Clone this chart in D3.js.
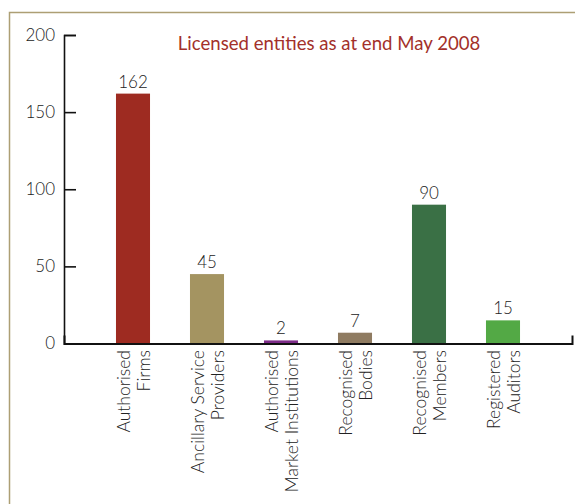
<!DOCTYPE html>
<html>
<head>
<meta charset="utf-8">
<script src="https://cdn.jsdelivr.net/npm/d3@7"></script>
<style>
  body { margin: 0; background: #fff; }
  svg text { font-family: Lato, "Open Sans", sans-serif; font-weight: 300; fill: #222; }
</style>
</head>
<body>
<div id="chart"></div>
<script>
// chart data
var categories = [
    ["Authorised", "Firms"],
    ["Ancillary Service", "Providers"],
    ["Authorised", "Market Institutions"],
    ["Recognised", "Bodies"],
    ["Recognised", "Members"],
    ["Registered", "Auditors"]
];
var values = [162, 45, 2, 7, 90, 15];
var barColors = ["#9e2b21", "#a49461", "#7d2c88", "#8f7b61", "#3a7045", "#53a945"];
var yTicks = [0, 50, 100, 150, 200];
var title = "Licensed entities as at end May 2008";

var width = 575, height = 504;

var svg = d3.select("#chart")
    .append("svg")
    .attr("width", width)
    .attr("height", height);

// frame
svg.append("path")
    .attr("d", "M9.5," + height + "V12.5H" + width)
    .attr("fill", "none")
    .attr("stroke", "#ad9f74")
    .attr("stroke-width", 1.5);

var y = d3.scaleLinear().domain([0, 200]).range([343.5, 35]);
var x = d3.scaleBand()
    .domain(d3.range(categories.length))
    .range([96, 540])
    .paddingInner(0.54)
    .paddingOuter(0.27);
var baseline = d3.scaleLinear().domain([0, 1]).range([64, 572]);

// bars
svg.append("g")
    .selectAll("rect")
    .data(values)
    .enter()
    .append("rect")
    .attr("x", function (d, i) { return x(i); })
    .attr("width", x.bandwidth())
    .attr("y", function (d) { return y(d); })
    .attr("height", function (d) { return y(0) - y(d); })
    .attr("fill", function (d, i) { return barColors[i]; });

// value labels
svg.append("g")
    .selectAll("text")
    .data(values)
    .enter()
    .append("text")
    .attr("x", function (d, i) { return x(i) + x.bandwidth() / 2; })
    .attr("y", function (d) { return y(d) - 6; })
    .attr("text-anchor", "middle")
    .attr("font-size", 17)
    .text(function (d) { return d; });

// y axis, ticks pointing inward
var yAxis = svg.append("g")
    .attr("transform", "translate(64,0)")
    .call(d3.axisLeft(y).tickValues(yTicks).tickSizeInner(-12).tickSizeOuter(-12).tickPadding(9));
yAxis.selectAll("path, line").attr("stroke", "#111").attr("stroke-width", 1.6);
yAxis.selectAll("text").attr("font-size", 17).attr("font-family", null).attr("fill", null);

// baseline
var xAxis = svg.append("g")
    .attr("transform", "translate(0," + y(0) + ")")
    .call(d3.axisBottom(baseline).tickValues([]).tickSizeOuter(-8));
xAxis.select("path").attr("stroke", "#111").attr("stroke-width", 2);

// category labels, rotated
var labels = svg.append("g")
    .selectAll("text")
    .data(categories)
    .enter()
    .append("text")
    .attr("transform", function (d, i) {
        return "translate(" + (x(i) + x.bandwidth() / 2) + ",350) rotate(-90)";
    })
    .attr("text-anchor", "end")
    .attr("font-size", 17.5);

labels.selectAll("tspan")
    .data(function (d) { return d; })
    .enter()
    .append("tspan")
    .attr("x", 0)
    .attr("y", function (d, i) { return i ? 17 : -3; })
    .text(function (d) { return d; });

// title
svg.append("text")
    .attr("x", 329)
    .attr("y", 50)
    .attr("text-anchor", "middle")
    .attr("font-size", 18.6)
    .style("font-weight", 400)
    .style("fill", "#a3302a")
    .text(title);
</script>
</body>
</html>
